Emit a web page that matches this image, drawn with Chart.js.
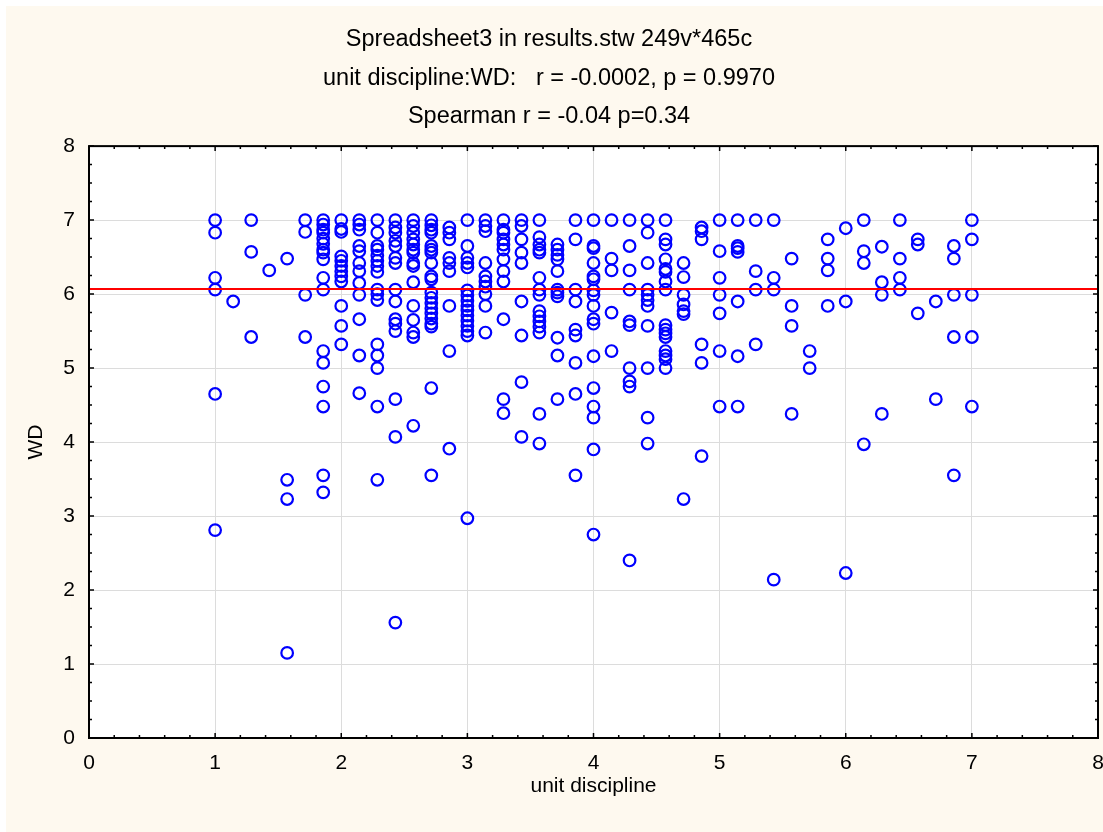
<!DOCTYPE html>
<html>
<head>
<meta charset="utf-8">
<title>unit discipline vs WD</title>
<script src="https://cdn.jsdelivr.net/npm/chart.js@4.4.1/dist/chart.umd.min.js"></script>
<style>
  html, body { margin: 0; padding: 0; background: #fff; }
  #wrap { width: 1103px; height: 832px; }
</style>
</head>
<body>
<div id="wrap"><canvas id="scatter" width="1103" height="832"></canvas></div>
<script>
// Titre et axes
const titleLines = [
    'Spreadsheet3 in results.stw 249v*465c',
    'unit discipline:WD:   r = -0.0002, p = 0.9970',
    'Spearman r = -0.04 p=0.34'
];
const xTitle = 'unit discipline';
const yTitle = 'WD';

// Ligne horizontale rouge (moyenne WD)
const wdMean = 6.07;

// Valeurs de "unit discipline" (moyennes sur 7 items)
const udLevels = [1.000, 1.143, 1.286, 1.429, 1.571, 1.714, 1.857, 2.000, 2.143, 2.286,
                  2.429, 2.571, 2.714, 2.857, 3.000, 3.143, 3.286, 3.429, 3.571, 3.714,
                  3.857, 4.000, 4.143, 4.286, 4.429, 4.571, 4.714, 4.857, 5.000, 5.143,
                  5.286, 5.429, 5.571, 5.714, 5.857, 6.000, 6.143, 6.286, 6.429, 6.571,
                  6.714, 6.857, 7.000];

// Valeurs WD lues pour chaque niveau (même ordre que udLevels)
const wdByLevel = [
    [7.00, 6.83, 6.22, 6.06, 4.65, 2.81],
    [5.90],
    [7.00, 6.57, 5.42],
    [6.32],
    [6.48, 3.49, 3.23, 1.15],
    [7.00, 6.84, 5.99, 5.42],
    [7.00, 6.94, 6.87, 6.83, 6.75, 6.68, 6.60, 6.56, 6.47, 6.22, 6.06, 5.23, 5.07, 4.75, 4.48, 3.55, 3.32],
    [7.00, 6.88, 6.84, 6.51, 6.45, 6.38, 6.31, 6.24, 6.17, 5.84, 5.57, 5.32],
    [7.00, 6.94, 6.87, 6.65, 6.58, 6.42, 6.31, 6.15, 5.99, 5.66, 5.17, 4.66],
    [7.00, 6.83, 6.65, 6.60, 6.52, 6.45, 6.38, 6.30, 6.06, 6.00, 5.92, 5.32, 5.17, 5.00, 4.48, 3.49],
    [7.00, 6.90, 6.83, 6.72, 6.65, 6.49, 6.42, 6.06, 5.90, 5.66, 5.60, 5.50, 4.58, 4.07, 1.56],
    [7.00, 6.92, 6.83, 6.74, 6.67, 6.60, 6.56, 6.42, 6.38, 6.16, 5.84, 5.65, 5.48, 5.42, 4.22],
    [7.00, 6.93, 6.87, 6.83, 6.65, 6.60, 6.56, 6.42, 6.24, 6.20, 6.02, 5.95, 5.88, 5.81, 5.74, 5.67, 5.60, 5.56, 4.73, 3.55],
    [6.90, 6.83, 6.74, 6.49, 6.42, 6.31, 5.84, 5.23, 3.91],
    [7.00, 6.65, 6.49, 6.42, 6.36, 6.05, 5.98, 5.91, 5.84, 5.78, 5.71, 5.64, 5.57, 5.50, 5.44, 2.97],
    [7.00, 6.92, 6.85, 6.42, 6.24, 6.17, 6.10, 6.00, 5.84, 5.48],
    [7.00, 6.87, 6.83, 6.74, 6.67, 6.60, 6.47, 6.31, 6.17, 5.66, 4.58, 4.39],
    [7.00, 6.92, 6.74, 6.56, 6.42, 5.90, 5.44, 4.81, 4.07],
    [7.00, 6.77, 6.67, 6.60, 6.56, 6.22, 6.06, 5.99, 5.77, 5.70, 5.63, 5.56, 5.48, 4.38, 3.98],
    [6.67, 6.60, 6.53, 6.47, 6.31, 6.06, 6.02, 5.97, 5.41, 5.17, 4.58],
    [7.00, 6.74, 6.06, 5.90, 5.52, 5.44, 5.07, 4.65, 3.55],
    [7.00, 6.65, 6.62, 6.42, 6.24, 6.20, 6.05, 5.99, 5.84, 5.66, 5.60, 5.16, 4.73, 4.48, 4.33, 3.90, 2.75],
    [7.00, 6.48, 6.32, 5.75, 5.23],
    [7.00, 6.65, 6.32, 6.06, 5.63, 5.58, 5.00, 4.82, 4.75, 2.40],
    [7.00, 6.83, 6.42, 6.06, 5.99, 5.92, 5.84, 5.57, 5.00, 4.33, 3.98],
    [7.00, 6.74, 6.67, 6.47, 6.34, 6.30, 6.17, 6.06, 5.58, 5.52, 5.47, 5.42, 5.23, 5.17, 5.12, 5.00],
    [6.42, 6.23, 5.99, 5.86, 5.77, 5.73, 3.23],
    [6.90, 6.85, 6.74, 5.32, 5.07, 3.81],
    [7.00, 6.58, 6.22, 5.99, 5.74, 5.23, 4.48],
    [7.00, 6.65, 6.62, 6.57, 5.90, 5.16, 4.48],
    [7.00, 6.31, 6.06, 5.32],
    [7.00, 6.22, 6.06, 2.14],
    [6.48, 5.84, 5.57, 4.38],
    [5.23, 5.00],
    [6.74, 6.48, 6.32, 5.84],
    [6.89, 5.90, 2.23],
    [7.00, 6.58, 6.42, 3.97],
    [6.64, 6.16, 5.99, 4.38],
    [7.00, 6.48, 6.22, 6.06],
    [6.74, 6.67, 5.74],
    [5.90, 4.58],
    [6.65, 6.48, 5.99, 5.42, 3.55],
    [7.00, 6.74, 5.99, 5.42, 4.48]
];

const fontFamily = '"Liberation Sans", Arial, sans-serif';

// Points du nuage
const points = [];
udLevels.forEach((ud, i) => {
    wdByLevel[i].forEach(wd => points.push({ x: ud, y: wd }));
});

// Fond crème, zone blanche, cadre et graduations vers l'intérieur
const framePlugin = {
    id: 'statFrame',
    beforeDraw(chart) {
        const { ctx, chartArea: a, width, height } = chart;
        ctx.save();
        ctx.fillStyle = '#ffffff';
        ctx.fillRect(0, 0, width, height);
        ctx.fillStyle = '#fef9ef';
        ctx.fillRect(6, 6, width - 6, height - 6);
        ctx.fillStyle = '#ffffff';
        ctx.fillRect(a.left, a.top, a.right - a.left, a.bottom - a.top);
        ctx.restore();
    },
    afterDraw(chart) {
        const { ctx, chartArea: a, scales } = chart;
        ctx.save();
        ctx.strokeStyle = '#000';
        ctx.lineWidth = 1.5;
        ctx.beginPath();
        for (let i = 0; i <= 40; i++) {
            const px = scales.x.getPixelForValue(i * 0.2);
            const len = i % 5 === 0 ? 5 : 3;
            ctx.moveTo(px, a.bottom); ctx.lineTo(px, a.bottom - len);
            ctx.moveTo(px, a.top); ctx.lineTo(px, a.top + len);
        }
        for (let i = 0; i <= 32; i++) {
            const py = scales.y.getPixelForValue(i * 0.25);
            const len = i % 4 === 0 ? 5 : 3;
            ctx.moveTo(a.left, py); ctx.lineTo(a.left + len, py);
            ctx.moveTo(a.right, py); ctx.lineTo(a.right - len, py);
        }
        ctx.stroke();
        ctx.lineWidth = 2;
        ctx.strokeRect(a.left, a.top, a.right - a.left, a.bottom - a.top);
        ctx.restore();
    }
};

const ctx = document.getElementById('scatter').getContext('2d');
new Chart(ctx, {
    type: 'scatter',
    data: {
        datasets: [
            {
                label: 'moyenne',
                data: [{ x: 0, y: wdMean }, { x: 8, y: wdMean }],
                showLine: true,
                borderColor: '#ff0000',
                borderWidth: 2,
                pointRadius: 0,
                order: 0
            },
            {
                label: 'WD',
                data: points,
                borderColor: '#0000ff',
                backgroundColor: 'rgba(0,0,0,0)',
                borderWidth: 2.2,
                pointRadius: 5.8,
                order: 1
            }
        ]
    },
    options: {
        responsive: false,
        animation: false,
        devicePixelRatio: 1,
        layout: { autoPadding: false, padding: { left: 0, right: 5, top: 0, bottom: 0 } },
        plugins: {
            legend: { display: false },
            tooltip: { enabled: false },
            title: {
                display: true,
                text: titleLines,
                color: '#000',
                font: { family: fontFamily, size: 23.5, weight: 'normal', lineHeight: 1.64 },
                padding: { top: 20.5, bottom: 10 }
            }
        },
        scales: {
            x: {
                type: 'linear',
                min: 0,
                max: 8,
                ticks: { stepSize: 1, color: '#000', padding: 13, font: { family: fontFamily, size: 21 } },
                grid: { color: '#dcdcdc', drawTicks: false },
                border: { display: false },
                title: {
                    display: true,
                    text: xTitle,
                    color: '#000',
                    font: { family: fontFamily, size: 21 },
                    padding: { top: 0, bottom: 33.4 }
                },
                afterFit(scale) {
                    scale.height = 94;
                    scale.paddingLeft = 0;
                    scale.paddingRight = 0;
                }
            },
            y: {
                type: 'linear',
                min: 0,
                max: 8,
                ticks: { stepSize: 1, color: '#000', padding: 14, font: { family: fontFamily, size: 21 } },
                grid: { color: '#dcdcdc', drawTicks: false },
                border: { display: false },
                title: {
                    display: true,
                    text: yTitle,
                    color: '#000',
                    font: { family: fontFamily, size: 21 },
                    padding: { top: 23.4, bottom: 0 }
                },
                afterFit(scale) { scale.width = 89; }
            }
        }
    },
    plugins: [framePlugin]
});
</script>
</body>
</html>
